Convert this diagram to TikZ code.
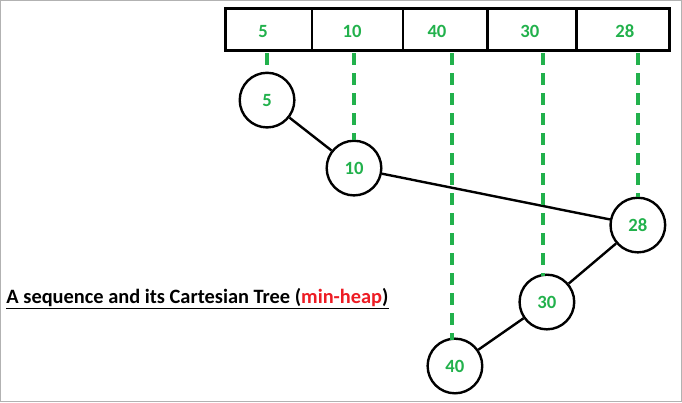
\documentclass[tikz,border=0pt]{standalone}
\usepackage{fontspec}
\setmainfont{Carlito}
\definecolor{keygreen}{RGB}{34,177,76}
\definecolor{heapred}{RGB}{237,28,36}

\begin{document}
\begin{tikzpicture}[x=0.75pt,y=-0.75pt]

	\tikzset{tree node/.style={circle, draw, line width=1.8pt, minimum size=41pt, inner sep=0pt, font=\bfseries\fontsize{14}{16}\selectfont, text=keygreen}};
	\tikzset{tree edge/.style={line width=1.8pt}};
	\tikzset{key lines/.style={keygreen, line width=2.5pt, dash pattern=on 9pt off 6pt}};
	\tikzset{array cell/.style={font=\bfseries\fontsize{14}{16}\selectfont, text=keygreen}};

	\draw[gray!60, line width=1pt] (0.5,0.5) rectangle (681.5,401.5);

	% the sequence
	\draw[line width=2.2pt] (225,8) rectangle (670,50);
	\foreach \x in {312,403,488,577}
		\draw[line width=2.2pt] (\x,8) -- (\x,50);
	\foreach \x/\name/\val in {263/a/5,352/b/10,437/c/40,530/d/30,625/e/28}
		\node[array cell] (\name) at (\x,31) {\val};

	% the tree
	\node[tree node] (n5) at (267,100) {5};
	\node[tree node] (n10) at (354,168) {10};
	\node[tree node] (n28) at (638,225) {28};
	\node[tree node] (n30) at (547,302) {30};
	\node[tree node] (n40) at (455,366) {40};

	\draw[tree edge] (n5) -- (n10);
	\draw[tree edge] (n10) -- (n28);
	\draw[tree edge] (n28) -- (n30);
	\draw[tree edge] (n30) -- (n40);

	\draw[key lines] (267,53) -- (n5.north);
	\draw[key lines] (354,53) -- (n10.north);
	\draw[key lines] (452,53) -- (452,340);
	\draw[key lines] (543,53) -- (543,276);
	\draw[key lines] (638,53) -- (n28.north);

	\node[anchor=west, font=\bfseries\fontsize{15.3}{17}\selectfont, inner sep=0pt] (caption) at (6,299)
		{\underline{A sequence and its Cartesian Tree (\textcolor{heapred}{min-heap})}};

\end{tikzpicture}
\end{document}
